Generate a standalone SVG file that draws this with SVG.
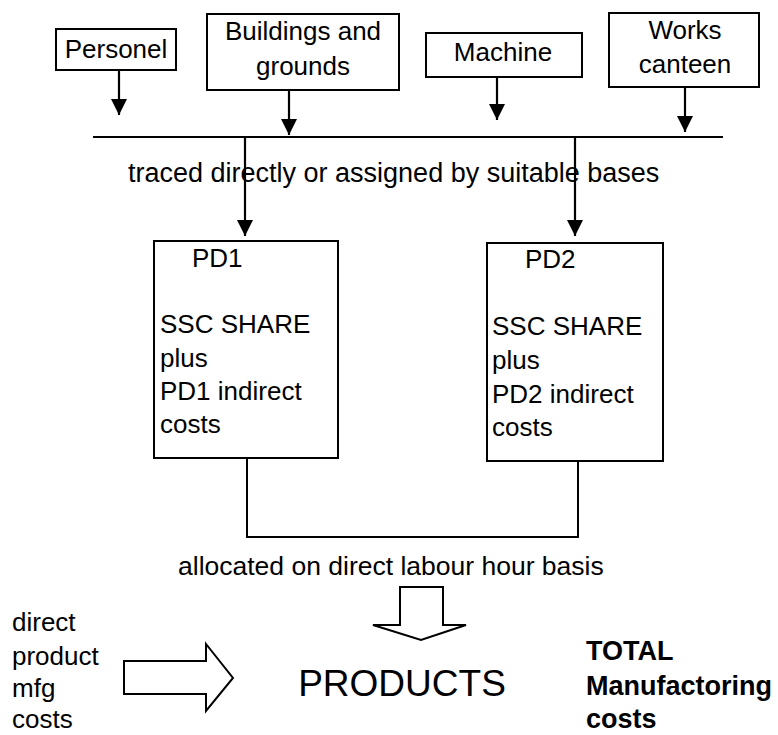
<svg xmlns="http://www.w3.org/2000/svg" width="778" height="735" viewBox="0 0 778 735">
  <style>
    text { font-family: "Liberation Sans", Arial, sans-serif; font-size: 26px; fill: #000; }
    .box { fill: #fff; stroke: #000; stroke-width: 2; }
    .wire { fill: none; stroke: #000; stroke-width: 2; }
    .arr { fill: none; stroke: #000; stroke-width: 2.2; marker-end: url(#head); }
    .block { fill: #fff; stroke: #000; stroke-width: 2; stroke-linejoin: miter; }
    .mid { text-anchor: middle; }
    .bold { font-weight: bold; font-size: 27px; }
  </style>
  <defs>
    <marker id="head" viewBox="0 0 16 16" refX="16" refY="8" markerWidth="16" markerHeight="16" markerUnits="userSpaceOnUse" orient="auto">
      <path d="M0,0 L16,8 L0,16 Z" fill="#000"/>
    </marker>
  </defs>

  <!-- service cost centres -->
  <g id="personel">
    <rect class="box" x="56" y="29" width="120" height="41"/>
    <text class="mid" x="116" y="58">Personel</text>
  </g>
  <g id="buildings">
    <rect class="box" x="207" y="14" width="192" height="76"/>
    <text class="mid" x="303" y="40">Buildings and</text>
    <text class="mid" x="303" y="75">grounds</text>
  </g>
  <g id="machine">
    <rect class="box" x="426" y="33" width="156" height="44"/>
    <text class="mid" x="503" y="61">Machine</text>
  </g>
  <g id="canteen">
    <rect class="box" x="609" y="13" width="150" height="74"/>
    <text class="mid" x="685" y="39">Works</text>
    <text class="mid" x="685" y="73">canteen</text>
  </g>

  <!-- production departments -->
  <g id="pd1">
    <rect class="box" x="154" y="241" width="184" height="217"/>
    <text x="192" y="267">PD1</text>
    <text x="160" y="333">SSC SHARE</text>
    <text x="160" y="367">plus</text>
    <text x="160" y="400">PD1 indirect</text>
    <text x="160" y="433">costs</text>
  </g>
  <g id="pd2">
    <rect class="box" x="487" y="243" width="176" height="218"/>
    <text x="525" y="268">PD2</text>
    <text x="492" y="335">SSC SHARE</text>
    <text x="492" y="369">plus</text>
    <text x="492" y="403">PD2 indirect</text>
    <text x="492" y="436">costs</text>
  </g>

  <g id="products">
    <text class="mid" x="402" y="696" style="font-size:37px">PRODUCTS</text>
  </g>

  <g id="direct-costs">
    <text x="12" y="631">direct</text>
    <text x="12" y="665">product</text>
    <text x="12" y="697">mfg</text>
    <text x="12" y="728">costs</text>
  </g>

  <g id="total">
    <text class="bold" x="586" y="660">TOTAL</text>
    <text class="bold" x="586" y="695">Manufactoring</text>
    <text class="bold" x="586" y="728">costs</text>
  </g>

  <!-- labels -->
  <text x="128" y="182" style="font-size:27px">traced directly or assigned by suitable bases</text>
  <text x="178" y="575" style="font-size:26.5px">allocated on direct labour hour basis</text>

  <!-- connectors -->
  <g id="connectors">
    <line class="arr" x1="119" y1="70" x2="119" y2="115"/>
    <line class="arr" x1="289" y1="90" x2="289" y2="135"/>
    <line class="arr" x1="497" y1="77" x2="497" y2="120"/>
    <line class="arr" x1="685" y1="87" x2="685" y2="132"/>
    <line class="wire" x1="93" y1="137" x2="723" y2="137"/>
    <line class="arr" x1="245" y1="137" x2="245" y2="236"/>
    <line class="arr" x1="575" y1="137" x2="575" y2="236"/>
    <polyline class="wire" points="247,458 247,537 578,537 578,461"/>
    <path class="block" d="M400,587 L443,587 L443,625 L466,625 L421,640 L373,625 L400,625 Z"/>
    <path class="block" d="M124,661 L206,661 L206,644 L233,678 L206,711 L206,694 L124,694 Z"/>
  </g>
</svg>
